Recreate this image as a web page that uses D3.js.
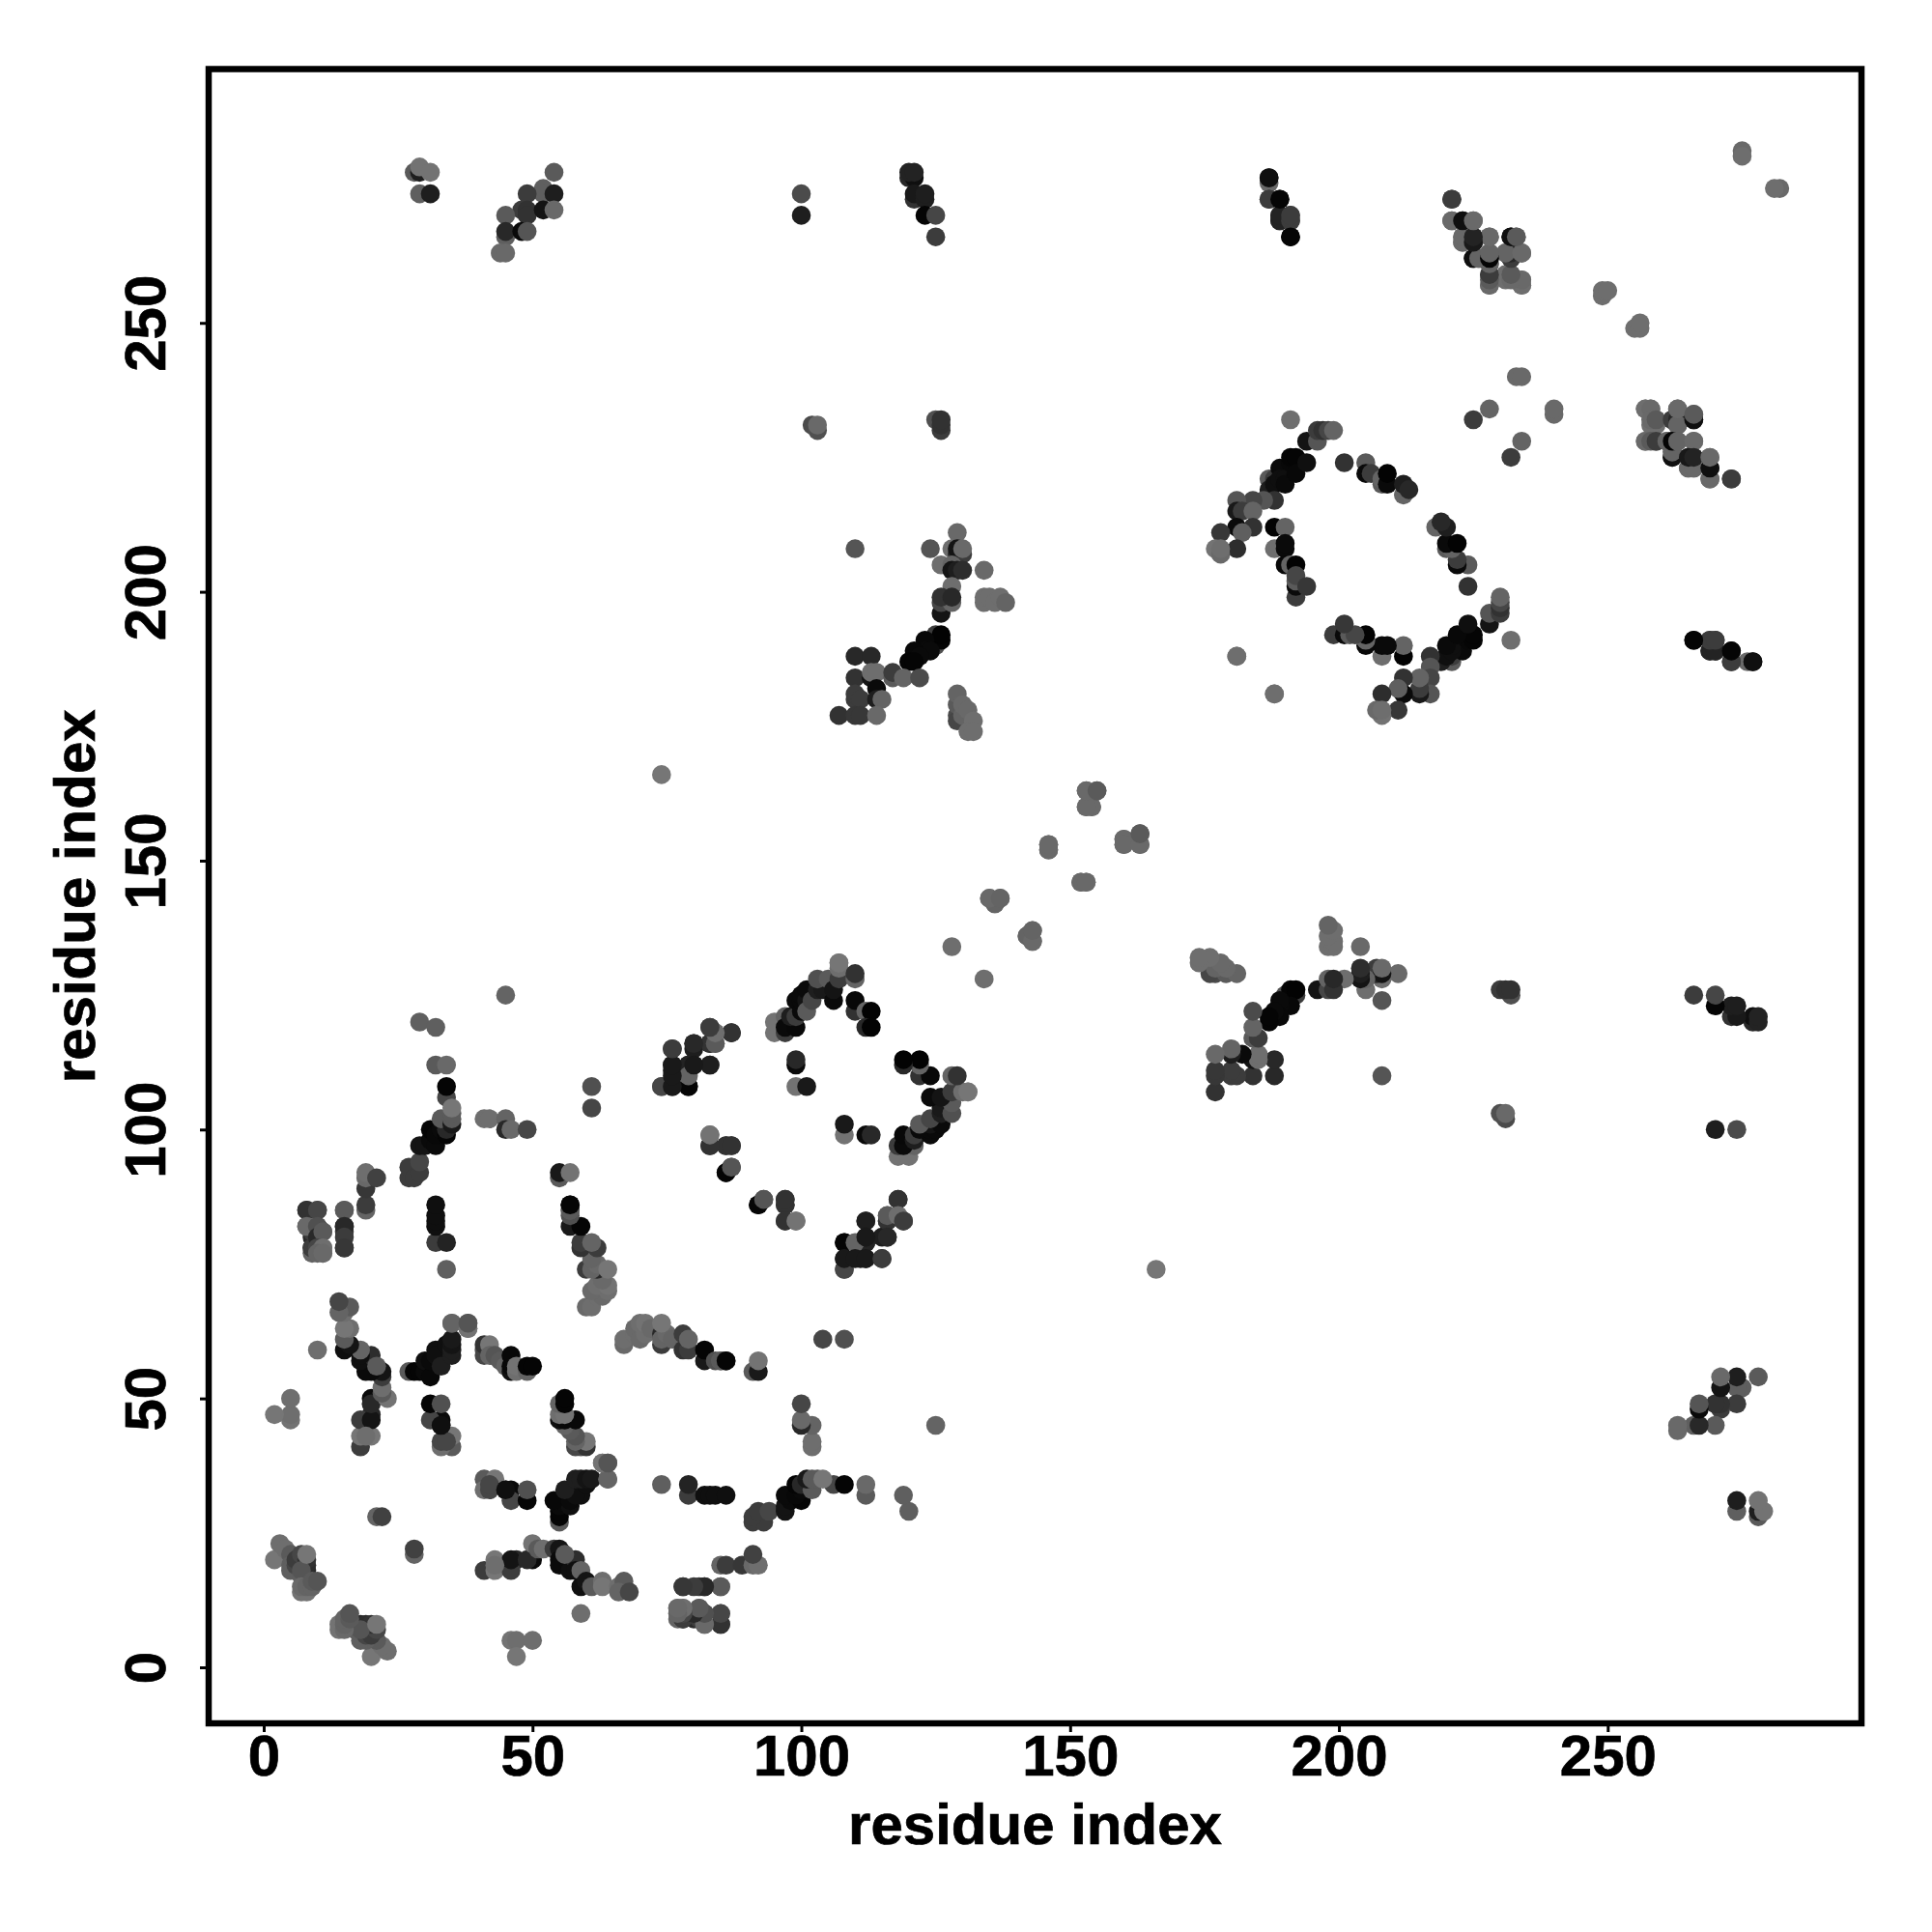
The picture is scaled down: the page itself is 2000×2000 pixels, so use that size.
<!DOCTYPE html>
<html>
<head>
<meta charset="utf-8">
<script src="https://d3js.org/d3.v7.min.js"></script>
<style>
  html, body { margin: 0; padding: 0; background: #fff; }
  text { font-family: "Liberation Sans", Arial, sans-serif; font-weight: bold; fill: #000; stroke: #000; stroke-width: 0.7; }
</style>
</head>
<body>
<script>
// Contacts as [residue a, residue b, grey level]. The map is symmetric so each
// one is drawn twice, at (a,b) and (b,a).
const nearDiagonal = [[2,20,118],[3,23,110],[4,22,110],[5,21,90],[5,19,95],[5,18,95],[6,19,70],[6,20,60],[7,17,95],[7,21,70],[8,18,40],[8,19,45],[8,20,50],[7,18,85],[8,21,118],[7,14,115],[8,14,115],[7,15,105],[8,15,100],[9,15,100],[9,16,90],[10,16,85],[21,28,100],[22,28,65]];
const strand15to23 = [[41,18,60],[43,20,118],[43,18,118],[47,20,40],[46,18,60],[46,20,20],[50,20,10],[49,20,40],[50,23,115],[51,22,90],[52,22,110],[54,22,60],[55,22,20],[55,20,10],[55,19,10],[57,18,15],[58,20,45],[58,18,15],[56,21,90],[59,18,100],[59,15,15],[60,16,20],[61,15,90],[63,16,110],[63,15,118],[66,15,110],[67,16,90],[66,14,100],[68,14,70],[19,43,110]];
const shortRange = [[59,10,110],[46,5,115],[47,5,110],[50,5,110],[47,2,118]];
const lowBand = [[77,11,105],[77,9,100],[78,9,40],[78,11,115],[80,9,40],[81,11,90],[82,10,70],[82,8,100],[85,8,40],[85,10,80],[78,15,50],[81,15,60],[82,15,50],[85,15,95]];
const strand30to35 = [[41,35,90],[41,33,110],[42,33,70],[43,35,118],[45,33,30],[46,33,10],[46,31,70],[49,31,5],[49,33,80],[34,42,70],[33,45,15]];
const helix27to38 = [[27,55,90],[28,55,5],[29,55,5],[30,55,10],[30,57,15],[31,54,8],[31,57,10],[32,59,15],[32,58,15],[33,56,30],[34,60,15],[35,58,30],[35,59,30],[35,60,20],[35,61,25],[35,64,100],[38,63,105],[38,64,85]];
const helix41to50 = [[41,59,80],[41,58,70],[41,60,50],[42,60,118],[42,58,100],[43,58,85],[44,57,90],[45,56,100],[46,55,15],[46,56,8],[46,58,8],[47,55,110],[47,56,115],[49,55,100],[49,56,5],[50,56,5]];
const band60to75 = [[67,60,105],[67,61,110],[69,62,110],[69,63,105],[70,61,105],[70,64,110],[71,62,110],[71,64,115],[72,63,105],[74,60,60],[74,62,40],[74,61,100],[75,62,105],[74,64,118],[76,61,100],[78,59,50],[78,62,60],[79,59,60],[79,61,100],[82,57,25],[82,59,5],[84,57,80],[85,57,100],[86,57,10]];
const strand8to21 = [[8,85,50],[10,85,70],[15,85,90],[9,81,60],[8,82,105],[10,82,80],[9,78,60],[10,80,40],[11,81,90],[15,82,40],[15,80,60],[15,78,55],[10,78,70],[11,78,110],[10,77,100],[11,77,105],[19,85,100],[19,86,60],[19,89,55],[19,91,105],[19,92,110],[21,91,65]];
const contacts32to34 = [[74,34,95],[79,32,60],[79,34,35],[82,32,15],[83,32,15],[84,32,15],[86,32,15],[64,35,100],[63,38,115],[64,38,85]];
const helix29to35 = [[27,91,60],[27,93,60],[28,91,60],[29,92,60],[29,94,70],[29,97,20],[30,97,20],[31,98,10],[31,100,5],[32,97,10],[32,99,8],[33,100,10],[34,99,5],[34,100,40],[33,102,90],[35,101,25],[35,102,90],[34,106,70],[35,103,90],[35,104,118],[34,108,5],[32,112,90],[34,112,105],[29,120,95],[32,119,95],[45,125,100],[74,166,118]];
const strand41to61 = [[41,102,110],[42,102,110],[45,102,100],[45,100,40],[46,100,105],[49,100,70],[55,91,90],[55,92,25],[57,92,115],[57,85,90],[57,86,5],[61,104,70],[61,108,80]];
const strand74to87 = [[74,108,90],[76,108,25],[79,108,8],[83,112,40],[79,111,100],[76,111,25],[76,112,30],[79,112,25],[80,112,30],[76,115,55],[80,116,30],[80,115,30],[83,116,35],[84,116,105],[83,119,50],[84,118,118],[87,118,40]];
const loop83to99 = [[92,86,10],[93,87,70],[97,86,50],[97,87,50],[97,83,50],[99,83,105],[86,97,50],[87,97,50],[83,97,50],[83,99,115],[86,92,5],[87,93,85]];
const contacts108to119 = [[118,87,50],[116,83,50],[116,84,90],[118,84,110],[119,83,60],[112,83,30],[112,79,35],[108,79,5],[110,79,100],[112,80,25],[116,80,40],[108,74,70],[108,76,25],[110,76,25],[112,76,25],[115,76,60]];
const diamond = [[95,118,115],[95,120,115],[97,121,100],[97,118,60],[97,119,10],[99,119,8],[98,121,30],[99,121,60],[99,124,10],[100,122,10],[100,124,10],[100,125,10],[101,124,20],[101,122,90],[101,126,10],[102,124,70],[103,126,30],[104,126,25],[103,128,80],[105,128,90],[106,124,10],[106,126,20],[107,128,60],[107,130,110],[107,131,118],[110,128,100],[110,129,50],[110,122,50],[110,124,8],[112,122,100],[113,122,3],[112,119,40],[113,119,3],[99,112,10],[99,113,40],[99,108,115],[101,108,25]];
const topLeft = [[28,278,90],[29,278,30],[29,279,115],[31,278,115],[29,274,95],[31,274,30],[54,278,90],[52,275,95],[52,274,95],[54,274,30],[49,274,60],[48,271,60],[49,271,50],[49,270,50],[52,271,20],[54,271,105],[45,270,90],[45,266,95],[45,267,40],[48,267,10],[49,267,85],[44,263,105],[45,263,105],[100,274,75],[100,270,30]];
const topMiddle = [[120,277,40],[121,277,15],[120,278,35],[121,278,35],[121,273,50],[121,274,25],[123,273,30],[123,274,30],[123,270,5],[125,270,70],[125,266,60],[102,231,75],[103,230,80],[103,231,105],[125,232,80],[126,230,60],[126,231,50],[126,232,50],[110,208,85]];
const helix124to138 = [[124,208,85],[129,211,105],[128,208,110],[129,207,40],[130,207,60],[129,208,20],[130,208,105],[126,205,110],[128,205,100],[128,204,20],[129,204,30],[130,204,45],[134,204,105],[128,201,110],[126,196,20],[126,198,70],[128,198,100],[126,199,50],[128,199,40],[134,198,110],[134,199,110],[135,199,110],[136,198,110],[137,199,110],[138,198,100]];
const strand107to126 = [[125,190,80],[125,192,60],[126,191,5],[126,192,3],[123,191,8],[123,189,10],[124,189,10],[121,189,8],[122,188,10],[120,187,5],[121,187,5],[110,188,40],[113,188,40],[110,184,50],[113,184,20],[113,185,110],[114,185,110],[114,182,10],[117,184,90],[117,185,60],[119,184,100],[122,184,75],[110,180,60],[110,181,60],[111,180,60],[114,180,30],[115,180,100],[107,177,50],[110,177,55],[111,177,55],[114,177,105]];
const strand129to132 = [[129,177,75],[129,176,70],[129,179,90],[129,181,100],[130,177,100],[130,179,105],[131,178,105],[132,176,110],[131,174,110],[132,174,110]];
const diagonalRun = [[153,163,110],[154,160,110],[153,160,110],[155,163,90],[146,153,105],[146,152,105],[160,154,105],[160,153,105],[163,153,105],[163,155,90],[152,146,105],[153,146,105],[135,143,105],[137,143,105],[136,142,105],[142,136,100],[143,135,105],[143,137,100],[128,134,110],[107,131,118],[181,188,110],[188,181,110]];
const ringArc = [[191,232,110],[194,228,20],[196,228,85],[196,230,60],[197,230,50],[198,230,70],[199,230,100],[187,221,90],[187,219,30],[188,221,60],[188,220,15],[189,223,10],[189,221,15],[190,221,15],[190,220,10],[191,224,8],[191,225,5],[192,225,5],[192,222,8],[194,224,15],[188,217,50],[186,217,85],[184,217,70],[181,217,85],[181,215,25],[182,215,60],[184,215,100],[181,212,10],[184,212,50],[182,211,95],[178,211,55],[181,208,45],[177,208,115],[178,207,105],[178,208,110],[188,212,3],[190,212,100],[188,208,110],[190,208,10],[190,209,10],[190,205,8],[191,205,100],[192,205,3],[192,199,60],[192,201,10],[192,202,90],[192,203,70],[194,201,55]];
const ringArc2 = [[201,224,50],[205,224,90],[205,222,10],[206,222,60],[208,220,90],[208,221,100],[209,220,10],[209,222,3],[212,218,100],[212,220,30],[213,219,40]];
const topRight = [[187,276,105],[187,277,30],[187,273,60],[189,273,8],[189,269,60],[189,270,60],[191,269,60],[191,270,70],[191,266,8],[221,273,60],[221,269,100],[223,269,20],[225,269,105],[223,265,100],[223,266,100],[225,265,30],[225,266,30],[225,262,20],[226,262,100],[228,259,70],[228,257,90],[228,262,10],[228,261,105],[228,263,100],[228,266,105],[232,266,10],[233,266,90],[231,263,105],[232,262,60],[232,263,60],[233,263,100],[234,263,95],[231,259,110],[232,259,100],[234,258,110],[234,257,110],[249,255,110],[249,256,110],[250,256,110],[275,282,105],[275,281,110],[225,232,60],[228,234,100],[233,240,105],[234,240,105]];
const farRight = [[258,231,110],[257,234,110],[258,234,105],[258,232,105],[259,232,90],[262,232,60],[263,232,40],[263,231,100],[263,234,105],[266,232,15],[266,233,90],[257,228,105],[258,228,90],[259,228,60],[261,228,100],[262,225,15],[262,226,100],[262,228,5],[263,228,100],[266,228,105],[265,223,105],[266,223,105],[265,225,25],[266,225,35],[269,221,105],[269,223,15],[269,225,105],[273,221,60],[269,189,35],[270,189,35],[269,191,60],[270,191,60],[266,191,5],[273,187,60],[273,189,5],[277,187,15]];

const contacts = [].concat(nearDiagonal, strand15to23, shortRange, lowBand, strand30to35, helix27to38,
  helix41to50, band60to75, strand8to21, contacts32to34, helix29to35, strand41to61, strand74to87,
  loop83to99, contacts108to119, diamond, topLeft, topMiddle, helix124to138, strand107to126,
  strand129to132, diagonalRun, ringArc, ringArc2, topRight, farRight);

const tickValues = [0, 50, 100, 150, 200, 250];
const axisLabel = "residue index";

const size = 2000;
const frameLeft = 216, frameRight = 1927, frameTop = 71.5, frameBottom = 1784;

const svg = d3.select("body").append("svg").attr("width", size).attr("height", size)
  .style("display", "block");

const x = d3.scaleLinear().domain([-10.24, 297.2]).range([frameLeft, frameRight]);
const y = d3.scaleLinear().domain([-10.42, 297.2]).range([frameBottom, frameTop]);

// each contact twice, mirrored across the diagonal
svg.append("g").selectAll("circle")
  .data(contacts.flatMap(function (d) {
    return [{ a: d[0], b: d[1], g: d[2] }, { a: d[1], b: d[0], g: d[2] }];
  }))
  .enter()
  .append("circle")
  .attr("cx", function (d) { return x(d.a); })
  .attr("cy", function (d) { return y(d.b); })
  .attr("r", 9.8)
  .attr("fill", function (d) { return "rgb(" + d.g + "," + d.g + "," + d.g + ")"; });

// frame
svg.append("rect")
  .attr("x", frameLeft).attr("y", frameTop)
  .attr("width", frameRight - frameLeft).attr("height", frameBottom - frameTop)
  .attr("fill", "none").attr("stroke", "#000").attr("stroke-width", 6.5);

// axes
const xAxis = svg.append("g")
  .attr("transform", "translate(0," + frameBottom + ")")
  .call(d3.axisBottom(x).tickValues(tickValues).tickSize(9).tickSizeOuter(0));
const yAxis = svg.append("g")
  .attr("transform", "translate(" + frameLeft + ",0)")
  .call(d3.axisLeft(y).tickValues(tickValues).tickSize(9).tickSizeOuter(0));

xAxis.select(".domain").remove();
yAxis.select(".domain").remove();
svg.selectAll(".tick line").attr("stroke", "#000").attr("stroke-width", 3);

xAxis.selectAll(".tick text")
  .attr("y", 54).attr("dy", 0)
  .attr("font-size", 60).style("font-family", '"Liberation Sans"').style("font-weight", "bold");
yAxis.selectAll(".tick text")
  .attr("x", 0).attr("dy", 0)
  .attr("text-anchor", "middle")
  .attr("transform", "translate(-45,0) rotate(-90)")
  .attr("font-size", 60).style("font-family", '"Liberation Sans"').style("font-weight", "bold");

svg.append("text")
  .attr("x", (frameLeft + frameRight) / 2).attr("y", 1909)
  .attr("text-anchor", "middle").attr("font-size", 60)
  .text(axisLabel);
svg.append("text")
  .attr("transform", "translate(98," + (frameTop + frameBottom) / 2 + ") rotate(-90)")
  .attr("text-anchor", "middle").attr("font-size", 60)
  .text(axisLabel);
</script>
</body>
</html>
